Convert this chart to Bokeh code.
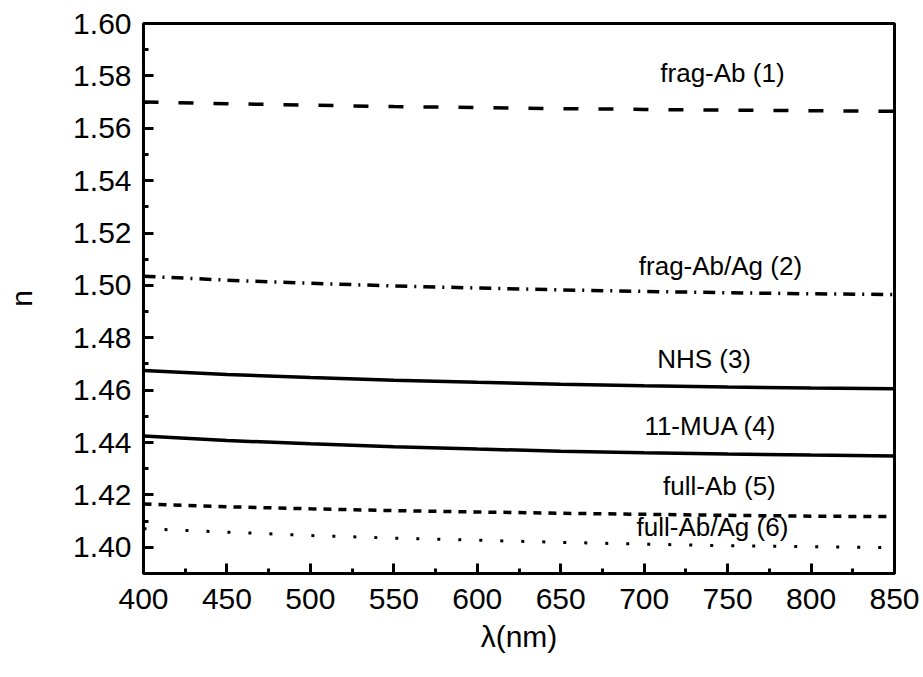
from bokeh.plotting import figure
from bokeh.models import SingleIntervalTicker, NumeralTickFormatter, Range1d, ColumnDataSource
from bokeh.core.properties import value
from bokeh.embed import file_html
from bokeh.resources import INLINE

wavelength = [400, 450, 500, 550, 600, 650, 700, 750, 800, 850]
frag_ab = [1.5700, 1.5694, 1.5688, 1.5683, 1.5679, 1.5675, 1.5672, 1.5669, 1.5667, 1.5665]
frag_ab_ag = [1.5035, 1.5020, 1.5008, 1.4998, 1.4990, 1.4983, 1.4977, 1.4972, 1.4968, 1.4965]
nhs = [1.4675, 1.4660, 1.4648, 1.4638, 1.4630, 1.4623, 1.4617, 1.4612, 1.4608, 1.4605]
mua = [1.4425, 1.4408, 1.4395, 1.4384, 1.4375, 1.4367, 1.4361, 1.4356, 1.4352, 1.4349]
full_ab = [1.4165, 1.4155, 1.4147, 1.4140, 1.4135, 1.4130, 1.4126, 1.4122, 1.4119, 1.4117]
full_ab_ag = [1.4071, 1.4058, 1.4045, 1.4035, 1.4027, 1.4019, 1.4012, 1.4006, 1.4002, 1.3999]

label_texts = ["frag-Ab (1)", "frag-Ab/Ag (2)", "NHS (3)", "11-MUA (4)", "full-Ab (5)", "full-Ab/Ag (6)"]
label_x = [746.9, 745.7, 735.9, 739.8, 745.1, 740.9]
label_y = [1.5812, 1.5073, 1.4719, 1.4464, 1.4235, 1.4079]

FONT = "Liberation Sans"

p = figure(width=923, height=677, output_backend="svg", toolbar_location=None,
           x_range=Range1d(400, 850), y_range=Range1d(1.39, 1.60),
           min_border_left=143, min_border_right=29, min_border_top=23, min_border_bottom=104,
           x_axis_label="λ(nm)", y_axis_label="n")
p.grid.visible = False
p.outline_line_color = "black"
p.outline_line_width = 3
p.background_fill_color = "white"
p.border_fill_color = "white"

p.xaxis.ticker = SingleIntervalTicker(interval=50, num_minor_ticks=2)
p.yaxis.ticker = SingleIntervalTicker(interval=0.02, num_minor_ticks=2)
p.yaxis.formatter = NumeralTickFormatter(format="0.00")

for ax in (p.xaxis[0], p.yaxis[0]):
    ax.axis_line_width = 3
    ax.axis_line_color = "black"
    ax.major_tick_in = 10
    ax.major_tick_out = 0
    ax.minor_tick_in = 5
    ax.minor_tick_out = 0
    ax.major_tick_line_width = 3
    ax.minor_tick_line_width = 3
    ax.major_label_text_font = FONT
    ax.major_label_text_font_size = "30px"
    ax.major_label_text_color = "black"
    ax.axis_label_text_font = FONT
    ax.axis_label_text_font_size = "30px"
    ax.axis_label_text_font_style = "normal"
    ax.axis_label_text_color = "black"

p.yaxis.major_label_standoff = 12
p.xaxis.major_label_standoff = 15
p.yaxis.axis_label_standoff = 32
p.xaxis.axis_label_standoff = 8

LW = 3.5
p.line(wavelength, frag_ab, line_color="black", line_width=LW, line_dash="15 20")
p.line(wavelength, frag_ab_ag, line_color="black", line_width=LW, line_dash="12 7 2 7")
p.line(wavelength, nhs, line_color="black", line_width=LW)
p.line(wavelength, mua, line_color="black", line_width=LW)
p.line(wavelength, full_ab, line_color="black", line_width=LW, line_dash="8 7")
p.line(wavelength, full_ab_ag, line_color="black", line_width=3, line_dash="3 18")

src = ColumnDataSource(dict(x=label_x, y=label_y, t=label_texts))
p.text(x="x", y="y", text="t", source=src, text_font=value(FONT), text_font_size="26px",
       text_align="center", text_baseline="alphabetic", text_color="black")

open("out.html", "w").write(file_html(p, INLINE))
